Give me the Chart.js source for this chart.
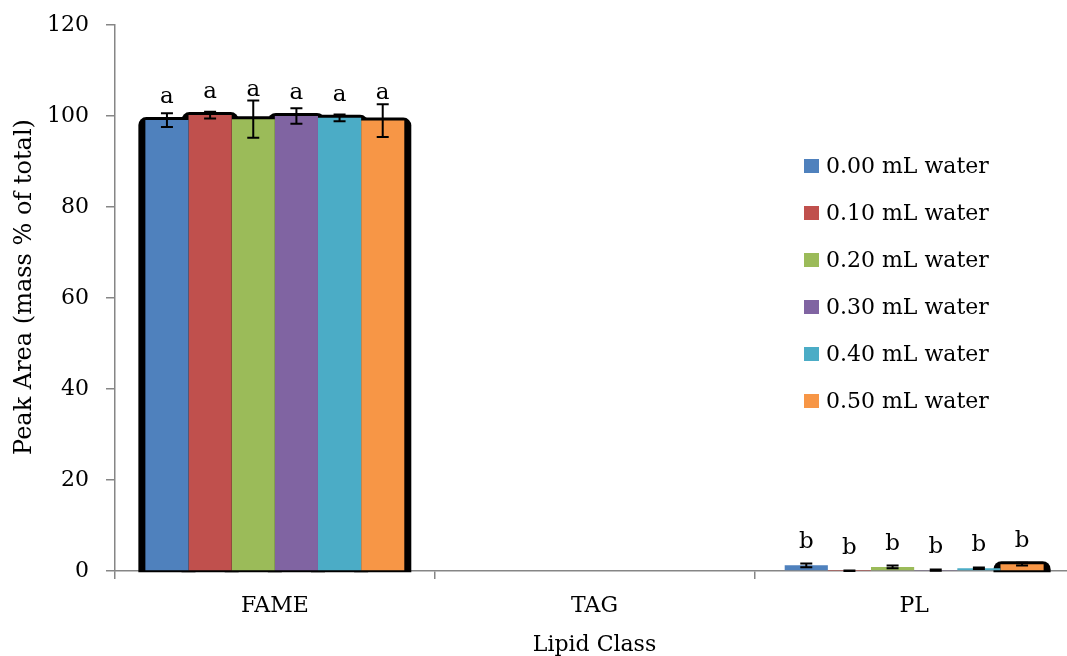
<!DOCTYPE html>
<html>
<head>
<meta charset="utf-8">
<script src="https://cdn.jsdelivr.net/npm/chart.js@4.4.1/dist/chart.umd.min.js"></script>
<style>
  html, body { margin: 0; padding: 0; overflow: hidden; background: #fff; }
  canvas { display: block; }
</style>
</head>
<body>
<canvas id="chart" width="1075" height="656"></canvas>
<script>
// lipid classes on the x axis
const categories = ['FAME', 'TAG', 'PL'];

// water added, one series each
const seriesLabels = ['0.00 mL water', '0.10 mL water', '0.20 mL water',
                      '0.30 mL water', '0.40 mL water', '0.50 mL water'];
const seriesColors = ['#4F81BD', '#C0504D', '#9BBB59', '#8064A2', '#4BACC6', '#F79646'];

// mean peak area (mass % of total) per lipid class
const water000 = [99.1, 0, 1.25];
const water010 = [100.2, 0, 0.05];
const water020 = [99.3, 0, 0.9];
const water030 = [100.0, 0, 0.2];
const water040 = [99.6, 0, 0.6];
const water050 = [99.0, 0, 1.5];

// standard deviations
const sd000 = [1.5, 0, 0.4];
const sd010 = [0.75, 0, 0.05];
const sd020 = [4.1, 0, 0.3];
const sd030 = [1.7, 0, 0.15];
const sd040 = [0.75, 0, 0.15];
const sd050 = [3.6, 0, 0.3];

// significance letters per lipid class
const groupLetters = ['a', '', 'b'];

const yTicks = [0, 20, 40, 60, 80, 100, 120];
const yTitle = 'Peak Area (mass % of total)';

const values = [water000, water010, water020, water030, water040, water050];
const errors = [sd000, sd010, sd020, sd030, sd040, sd050];

const FONT = 'DejaVu Serif';
const AXIS_GRAY = '#868686';

// black rounded shadow behind the FAME bars and the last PL bar
const barShadow = {
  id: 'barShadow',
  beforeDatasetsDraw(chart) {
    const ctx = chart.ctx;
    const last = chart.data.datasets.length - 1;
    ctx.save();
    ctx.fillStyle = '#000';
    chart.data.datasets.forEach((ds, d) => {
      chart.getDatasetMeta(d).data.forEach((bar, i) => {
        if (!(i === 0 || (i === 2 && d === last))) return;
        const { x, y, base, width } = bar.getProps(['x', 'y', 'base', 'width'], true);
        ctx.beginPath();
        ctx.roundRect(x - width / 2 - 7, y - 3, width + 14, base - y + 5, [8, 8, 0, 0]);
        ctx.fill();
      });
    });
    ctx.restore();
  }
};

// error bars plus the letter above every bar
const errorBars = {
  id: 'errorBars',
  afterDatasetsDraw(chart) {
    const ctx = chart.ctx;
    const yScale = chart.scales.y;
    ctx.save();
    ctx.strokeStyle = '#000';
    ctx.lineWidth = 2;
    ctx.fillStyle = '#000';
    ctx.font = '23px "' + FONT + '"';
    ctx.textAlign = 'center';
    ctx.textBaseline = 'alphabetic';
    chart.data.datasets.forEach((ds, d) => {
      chart.getDatasetMeta(d).data.forEach((bar, i) => {
        const v = ds.data[i];
        const e = errors[d][i];
        const { x, y } = bar.getProps(['x', 'y'], true);
        const top = yScale.getPixelForValue(v + e);
        if (e > 0) {
          const bottom = yScale.getPixelForValue(Math.max(0, v - e));
          ctx.beginPath();
          ctx.moveTo(x, top);
          ctx.lineTo(x, bottom);
          ctx.moveTo(x - 6, top);
          ctx.lineTo(x + 6, top);
          ctx.moveTo(x - 6, bottom);
          ctx.lineTo(x + 6, bottom);
          ctx.stroke();
        }
        const letter = groupLetters[i];
        if (letter) {
          ctx.fillText(letter, x, Math.min(y - 17, top - 5));
        }
      });
    });
    ctx.restore();
  }
};

// legend inside the plot on the right, and the vertical axis title
const sideLegend = {
  id: 'sideLegend',
  afterDraw(chart) {
    const ctx = chart.ctx;
    ctx.save();
    ctx.font = '22px "' + FONT + '"';
    ctx.textAlign = 'left';
    ctx.textBaseline = 'middle';
    chart.data.datasets.forEach((ds, d) => {
      const cy = 166 + d * 47;
      ctx.fillStyle = ds.backgroundColor;
      ctx.fillRect(804, cy - 7, 15, 14);
      ctx.fillStyle = '#000';
      ctx.fillText(ds.label, 826, cy + 1);
    });

    ctx.font = '24px "' + FONT + '"';
    ctx.textAlign = 'center';
    ctx.translate(25, 287);
    ctx.rotate(-Math.PI / 2);
    ctx.fillText(yTitle, 0, 0);
    ctx.restore();
  }
};

new Chart(document.getElementById('chart').getContext('2d'), {
  type: 'bar',
  data: {
    labels: categories,
    datasets: values.map((data, d) => ({
      label: seriesLabels[d],
      data,
      backgroundColor: seriesColors[d],
      borderWidth: 0,
      barPercentage: 1.0,
      categoryPercentage: 0.81
    }))
  },
  options: {
    responsive: false,
    animation: false,
    layout: { padding: { top: 25, right: 1, left: 0, bottom: 0 } },
    plugins: {
      legend: { display: false },
      tooltip: { enabled: false }
    },
    scales: {
      x: {
        grid: { offset: true, drawOnChartArea: false, color: AXIS_GRAY, lineWidth: 1.5, tickLength: 8 },
        border: { color: AXIS_GRAY, width: 1.5 },
        ticks: { color: '#000', font: { family: FONT, size: 22 }, padding: 14 },
        title: {
          display: true,
          text: 'Lipid Class',
          color: '#000',
          font: { family: FONT, size: 22 },
          padding: { top: 0, bottom: -2 }
        },
        afterFit(scale) { scale.height = 85; }
      },
      y: {
        min: 0,
        max: 120,
        afterBuildTicks(scale) { scale.ticks = yTicks.map(value => ({ value })); },
        grid: { drawOnChartArea: false, color: AXIS_GRAY, lineWidth: 1.5, tickLength: 9 },
        border: { color: AXIS_GRAY, width: 1.5 },
        ticks: { color: '#000', font: { family: FONT, size: 22 }, padding: 17 },
        afterFit(scale) {
          scale.width = 115;
          scale.paddingTop = 0;
          scale.paddingBottom = 0;
        }
      }
    }
  },
  plugins: [barShadow, errorBars, sideLegend]
});
</script>
</body>
</html>
